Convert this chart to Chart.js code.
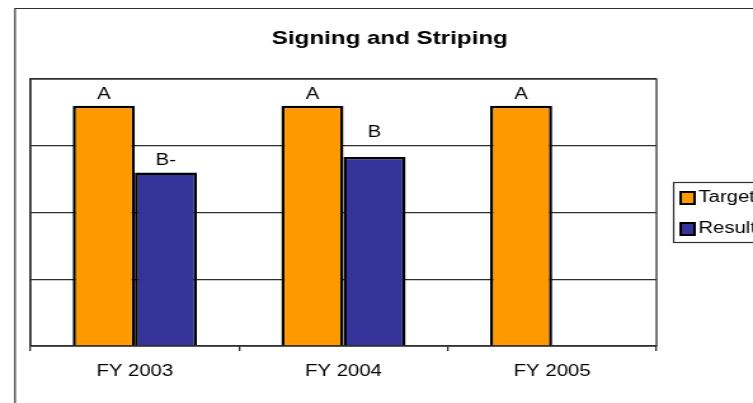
<!DOCTYPE html>
<html>
    <head>
        <title>Signing and Striping</title>
        <meta charset="UTF-8">
        <script src="https://cdn.jsdelivr.net/npm/chart.js"></script>
        <style>
            body {margin: 0; background: #fff;}
            /* the source picture is stretched sideways, so the chart is drawn narrow and widened */
            #wrap {position: absolute; left: 0; top: 0; width: 593px; height: 403px;
                   transform: scaleX(1.2698); transform-origin: 0 0;}
        </style>
    </head>
    <body>
        <div id="wrap"><canvas id="myChart"></canvas></div>
    <script>
      // data
      const years = ['FY 2003', 'FY 2004', 'FY 2005'];
      const target = [3.6, 3.6, 3.6];
      const result = [2.6, 2.83, null];
      const targetGrades = ['A', 'A', 'A'];
      const resultGrades = ['B-', 'B', ''];

      const FONT = '"Liberation Sans", Arial, sans-serif';
      const LINE = '#2e2e2e';

      // title, outer frame, plot frame, grade labels, legend
      const extras = {
        id: 'extras',
        beforeDraw(chart) {
          const c = chart.ctx;
          c.save();
          c.fillStyle = '#fff';
          c.fillRect(0, 0, chart.width, chart.height);
          c.strokeStyle = LINE;
          c.lineWidth = 1.2;
          c.beginPath();
          c.moveTo(11.8, chart.height);
          c.lineTo(11.8, 8.5);
          c.lineTo(chart.width, 8.5);
          c.stroke();
          c.fillStyle = '#000';
          c.font = 'bold 19px ' + FONT;
          c.textAlign = 'center';
          c.textBaseline = 'alphabetic';
          c.fillText('Signing and Striping', 307, 44);
          c.restore();
        },
        beforeDatasetsDraw(chart) {
          const a = chart.chartArea, c = chart.ctx;
          c.save();
          c.strokeStyle = LINE;
          c.lineWidth = 1.3;
          c.strokeRect(a.left, a.top, a.right - a.left, a.bottom - a.top);
          c.restore();
        },
        afterDatasetsDraw(chart) {
          const c = chart.ctx;
          c.save();
          c.fillStyle = '#000';
          c.font = '16px ' + FONT;
          c.textAlign = 'center';
          c.textBaseline = 'alphabetic';
          [targetGrades, resultGrades].forEach((grades, di) => {
            chart.getDatasetMeta(di).data.forEach((bar, i) => {
              // the FY 2004 result grade sits higher in the source
              const lift = (di === 1 && i === 1) ? 20 : 7;
              if (grades[i]) c.fillText(grades[i], bar.x, bar.y - lift);
            });
          });
          // legend
          c.strokeStyle = LINE;
          c.lineWidth = 1.2;
          c.strokeRect(530.5, 182.5, 100, 60);
          c.font = '16px ' + FONT;
          c.textAlign = 'left';
          c.textBaseline = 'middle';
          chart.data.datasets.forEach((ds, i) => {
            const y = 192 + i * 31;
            c.fillStyle = ds.backgroundColor;
            c.fillRect(536, y, 11, 12);
            c.strokeStyle = '#000';
            c.lineWidth = 2;
            c.strokeRect(536, y, 11, 12);
            c.fillStyle = '#000';
            c.fillText(ds.label, 550, y + 6);
          });
          c.restore();
        }
      };

      const ctx = document.getElementById('myChart').getContext('2d');
      const chart = new Chart(ctx, {
        type: 'bar',
        data: {
          labels: years,
          datasets: [
            {
              label: 'Target',
              data: target,
              backgroundColor: '#FF9900',
              borderColor: '#000',
              borderWidth: 2.5
            },
            {
              label: 'Result',
              data: result,
              backgroundColor: '#333399',
              borderColor: '#000',
              borderWidth: 2.5
            }
          ]
        },
        options: {
          responsive: true,
          maintainAspectRatio: false,
          animation: false,
          categoryPercentage: 0.595,
          barPercentage: 1,
          layout: {padding: {top: 79, left: 24, right: 76, bottom: 0}},
          plugins: {
            legend: {display: false},
            title: {display: false},
            tooltip: {enabled: false}
          },
          scales: {
            x: {
              grid: {display: true, drawOnChartArea: false, drawTicks: true, tickLength: 5, color: LINE, lineWidth: 1.3},
              border: {display: true, color: LINE, width: 1.3},
              ticks: {color: '#000', font: {family: FONT, size: 16}, padding: 11},
              afterFit: s => { s.height = 57; }
            },
            y: {
              min: 0,
              max: 4,
              ticks: {display: false, stepSize: 1},
              grid: {color: LINE, drawTicks: false, lineWidth: 1.3},
              border: {display: true, color: LINE, width: 1.3},
              afterFit: s => { s.width = 0; }
            }
          }
        },
        plugins: [extras]
      });
    </script>
    </body>
</html>
